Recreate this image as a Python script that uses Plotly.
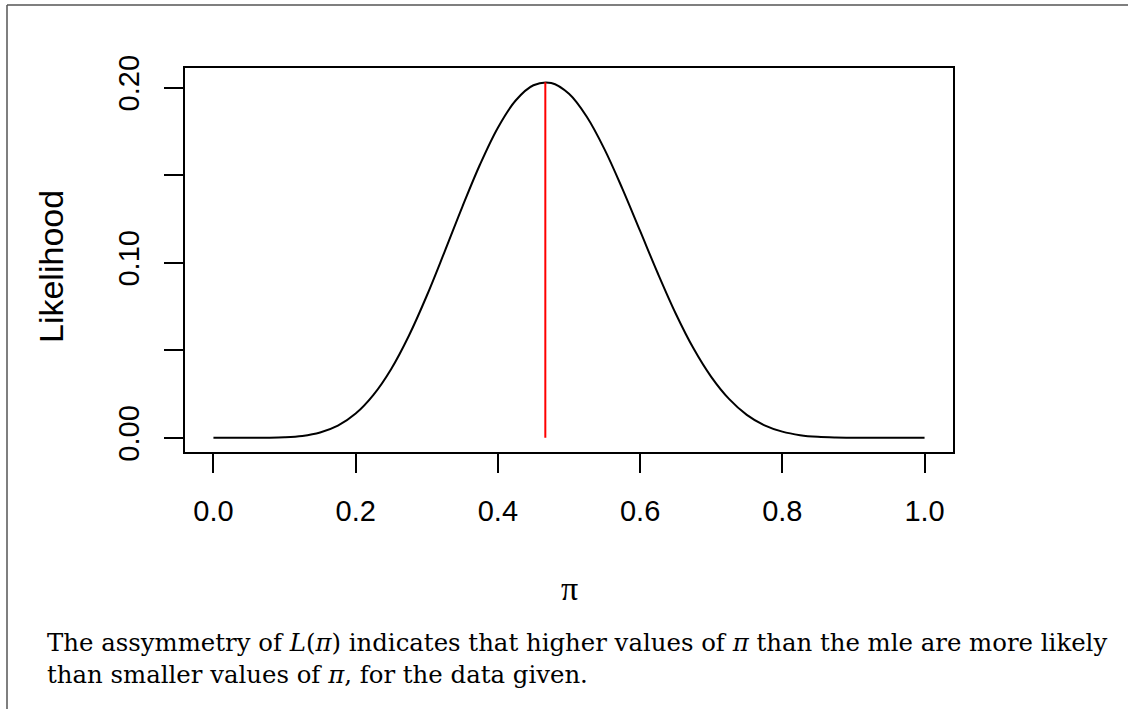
import plotly.graph_objects as go

# Likelihood curve
pi_vals = [0.0, 0.025, 0.05, 0.075, 0.10, 0.125, 0.15, 0.175, 0.20, 0.225, 0.25, 0.275,
           0.30, 0.325, 0.35, 0.375, 0.40, 0.425, 0.45, 0.475, 0.50, 0.525, 0.55,
           0.575, 0.60, 0.625, 0.65, 0.675, 0.70, 0.725, 0.75, 0.775, 0.80, 0.825, 0.85,
           0.875, 0.90, 0.925, 0.95, 0.975, 1.0]
likelihood = [0.0, 0.0, 0.0, 0.00005, 0.00028, 0.00105, 0.0030, 0.0069, 0.0138, 0.0245,
              0.0393, 0.0584, 0.0811, 0.1062, 0.1319, 0.1562, 0.1771, 0.1926, 0.2013,
              0.2026, 0.1964, 0.1833, 0.1647, 0.1423, 0.1181, 0.0938, 0.0710,
              0.0511, 0.0348, 0.0222, 0.0131, 0.0071, 0.0035, 0.0015, 0.00053, 0.00015,
              0.00003, 0.0, 0.0, 0.0, 0.0]

mle_pi = 0.4667
mle_L = 0.2030

x_ticks = [0.0, 0.2, 0.4, 0.6, 0.8, 1.0]
x_ticktext = ["0.0", "0.2", "0.4", "0.6", "0.8", "1.0"]
y_ticks = [0.0, 0.05, 0.10, 0.15, 0.20]
y_ticktext = ["0.00", "", "0.10", "", "0.20"]

caption = ("The assymmetry of <i>L</i>(<i>π</i>) indicates that higher values of <i>π</i> than the mle are more likely"
           "<br>than smaller values of <i>π</i>, for the data given.")

fig = go.Figure()
fig.add_trace(go.Scatter(x=pi_vals, y=likelihood, mode="lines",
                         line=dict(color="black", width=2, shape="spline", smoothing=1.0),
                         showlegend=False, hoverinfo="skip"))
fig.add_trace(go.Scatter(x=[mle_pi, mle_pi], y=[0, mle_L], mode="lines",
                         line=dict(color="#ff0000", width=2),
                         showlegend=False, hoverinfo="skip"))

L, R, T, B = 185, 175, 68, 257
W, H = 1128, 709
pw, ph = W - L - R, H - T - B

axis_common = dict(showline=True, mirror=True, linecolor="black", linewidth=2,
                   ticks="outside", ticklen=19, tickwidth=2, tickcolor="black",
                   showgrid=False, zeroline=False,
                   tickfont=dict(family="Liberation Sans, Arial, sans-serif", size=29, color="black"))

fig.update_layout(
    width=W, height=H,
    margin=dict(l=L, r=R, t=T, b=B, pad=0),
    paper_bgcolor="white", plot_bgcolor="white",
    xaxis=dict(range=[-0.04, 1.04], tickvals=x_ticks, ticktext=x_ticktext,
               ticklabelstandoff=13, **axis_common),
    yaxis=dict(range=[-0.00812, 0.21116], tickvals=y_ticks, ticktext=y_ticktext,
               tickangle=-90, ticklabelstandoff=13, **axis_common),
    shapes=[
        dict(type="line", xref="paper", yref="paper",
             x0=(7 - L) / pw, x1=(W + 20 - L) / pw,
             y0=(H - B - 5) / ph, y1=(H - B - 5) / ph,
             line=dict(color="#555555", width=1.5)),
        dict(type="line", xref="paper", yref="paper",
             x0=(7 - L) / pw, x1=(7 - L) / pw,
             y0=(H - B - 5) / ph, y1=(H - B - (H + 20)) / ph,
             line=dict(color="#555555", width=1.5)),
    ],
    annotations=[
        dict(text="Likelihood", xref="paper", yref="paper",
             x=(51 - L) / pw, y=(H - B - 267) / ph, textangle=-90, showarrow=False,
             xanchor="center", yanchor="middle",
             font=dict(family="Liberation Sans, Arial, sans-serif", size=34, color="black")),
        dict(text="π", xref="paper", yref="paper",
             x=(569 - L) / pw, y=(H - B - 588) / ph, showarrow=False,
             xanchor="center", yanchor="middle",
             font=dict(family="Liberation Serif, Times New Roman, serif", size=34, color="black")),
        dict(text=caption, xref="paper", yref="paper",
             x=(45 - L) / pw, y=(H - B - 626) / ph, showarrow=False,
             xanchor="left", yanchor="top", align="left",
             font=dict(family="DejaVu Serif, serif", size=24.4, color="black")),
    ],
)

fig.write_html("out.html")
